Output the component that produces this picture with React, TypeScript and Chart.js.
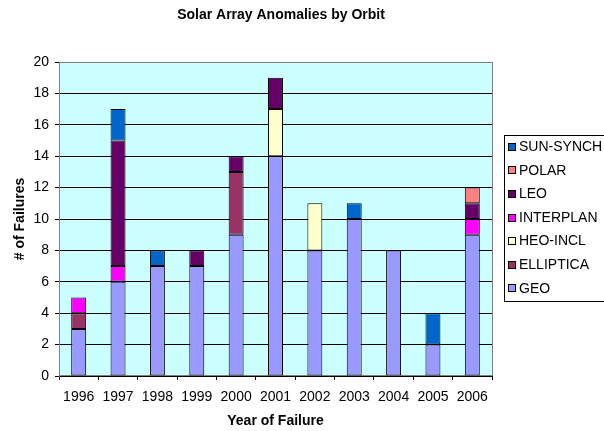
import React, { useEffect, useRef } from 'react';
import { Chart, registerables } from 'chart.js';

Chart.register(...registerables);

const title = 'Solar Array Anomalies by Orbit';
const xTitle = 'Year of Failure';
const yTitle = '# of Failures';

const years = ['1996', '1997', '1998', '1999', '2000', '2001', '2002', '2003', '2004', '2005', '2006'];

// stacked bottom -> top
const geo = [3, 6, 7, 7, 9, 14, 8, 10, 8, 2, 9];
const elliptica = [1, 0, 0, 0, 4, 0, 0, 0, 0, 0, 0];
const heoIncl = [0, 0, 0, 0, 0, 3, 3, 0, 0, 0, 0];
const interplan = [1, 1, 0, 0, 0, 0, 0, 0, 0, 0, 1];
const leo = [0, 8, 0, 1, 1, 2, 0, 0, 0, 0, 1];
const polar = [0, 0, 0, 0, 0, 0, 0, 0, 0, 0, 1];
const sunSynch = [0, 2, 1, 0, 0, 0, 0, 1, 0, 2, 0];

const seriesLabels = ['GEO', 'ELLIPTICA', 'HEO-INCL', 'INTERPLAN', 'LEO', 'POLAR', 'SUN-SYNCH'];
const seriesValues = [geo, elliptica, heoIncl, interplan, leo, polar, sunSynch];
const seriesColors = ['#9999FF', '#993366', '#FFFFCC', '#FF00FF', '#660066', '#FF8080', '#0066CC'];

const yMin = 0;
const yMax = 20;
const yStep = 2;

const FONT = "'Liberation Sans', Arial, sans-serif";

const decorPlugin = {
  id: 'decor',
  beforeDraw(chart: any) {
    const { ctx, chartArea: a } = chart;
    ctx.save();
    ctx.fillStyle = '#FFFFFF';
    ctx.fillRect(0, 0, chart.width, chart.height);
    ctx.fillStyle = '#CCFFFF';
    ctx.fillRect(a.left, a.top, a.right - a.left, a.bottom - a.top);
    ctx.restore();
  },
  beforeDatasetsDraw(chart: any) {
    const { ctx, chartArea: a } = chart;
    ctx.save();
    ctx.strokeStyle = '#808080';
    ctx.lineWidth = 1;
    ctx.strokeRect(Math.round(a.left) + 0.5, Math.round(a.top) + 0.5, Math.round(a.right - a.left), Math.round(a.bottom - a.top) - 1);
    ctx.restore();
  },
  afterDraw(chart: any) {
    const { ctx, chartArea: a } = chart;
    ctx.save();
    ctx.fillStyle = '#000';
    // title
    ctx.font = `bold 14px ${FONT}`;
    ctx.textAlign = 'center';
    ctx.textBaseline = 'middle';
    ctx.fillText(title, 281, 15);
    // x title
    ctx.fillText(xTitle, (a.left + a.right) / 2, 421);
    // y title
    ctx.save();
    ctx.translate(20, (a.top + a.bottom) / 2);
    ctx.rotate(-Math.PI / 2);
    ctx.fillText(yTitle, 0, 0);
    ctx.restore();

    // legend
    const lx = 504.5;
    const ly = 135.5;
    ctx.strokeStyle = '#000';
    ctx.lineWidth = 1;
    ctx.strokeRect(lx, ly, 120, 166);
    ctx.font = `14px ${FONT}`;
    ctx.textAlign = 'left';
    const ds = chart.data.datasets;
    const n = ds.length;
    for (let i = 0; i < n; i++) {
      const d = ds[n - 1 - i];
      const cy = 146.7 + i * 23.6;
      const sy = Math.round(cy - 4);
      ctx.fillStyle = d.backgroundColor;
      ctx.fillRect(508, sy, 8, 8);
      ctx.strokeStyle = '#000';
      ctx.strokeRect(508.5, sy + 0.5, 7, 7);
      ctx.fillStyle = '#000';
      ctx.fillText(d.label, 519, cy + 0.5);
    }
    ctx.restore();
  },
};

export default function App() {
  const ref = useRef<HTMLCanvasElement>(null);

  useEffect(() => {
    if (!ref.current) return;
    const chart = new Chart(ref.current, {
      type: 'bar',
      data: {
        labels: years,
        datasets: seriesLabels.map((label, i) => ({
          label,
          data: seriesValues[i].map((v) => (v === 0 ? null : v)),
          backgroundColor: seriesColors[i],
          borderColor: '#000000',
          borderWidth: 1,
          borderSkipped: false,
          barPercentage: 0.38,
          categoryPercentage: 1,
        })),
      },
      options: {
        responsive: false,
        animation: false,
        events: [],
        layout: { padding: { left: 0, top: 62, right: 112, bottom: 0 } },
        plugins: {
          legend: { display: false },
          title: { display: false },
          tooltip: { enabled: false },
        },
        scales: {
          x: {
            stacked: true,
            grid: {
              offset: true,
              drawOnChartArea: false,
              drawTicks: true,
              tickLength: 4,
              color: '#000000',
            },
            border: { color: '#000000' },
            ticks: {
              color: '#000000',
              font: { family: FONT, size: 14 },
              padding: 9,
              maxRotation: 0,
              autoSkip: false,
            },
            afterFit(scale: any) {
              scale.height = 55;
            },
          },
          y: {
            stacked: true,
            min: yMin,
            max: yMax,
            grid: {
              color: '#000000',
              tickLength: 4,
              drawTicks: true,
            },
            border: { color: '#808080' },
            ticks: {
              stepSize: yStep,
              color: '#000000',
              font: { family: FONT, size: 14 },
              padding: 6,
            },
            afterFit(scale: any) {
              scale.width = 59;
            },
          },
        },
      },
      plugins: [decorPlugin],
    });
    return () => chart.destroy();
  }, []);

  return (
    <div style={{ position: 'fixed', left: 0, top: 0, width: 604, height: 431 }}>
      <canvas ref={ref} width={604} height={431} style={{ width: 604, height: 431 }} />
    </div>
  );
}
